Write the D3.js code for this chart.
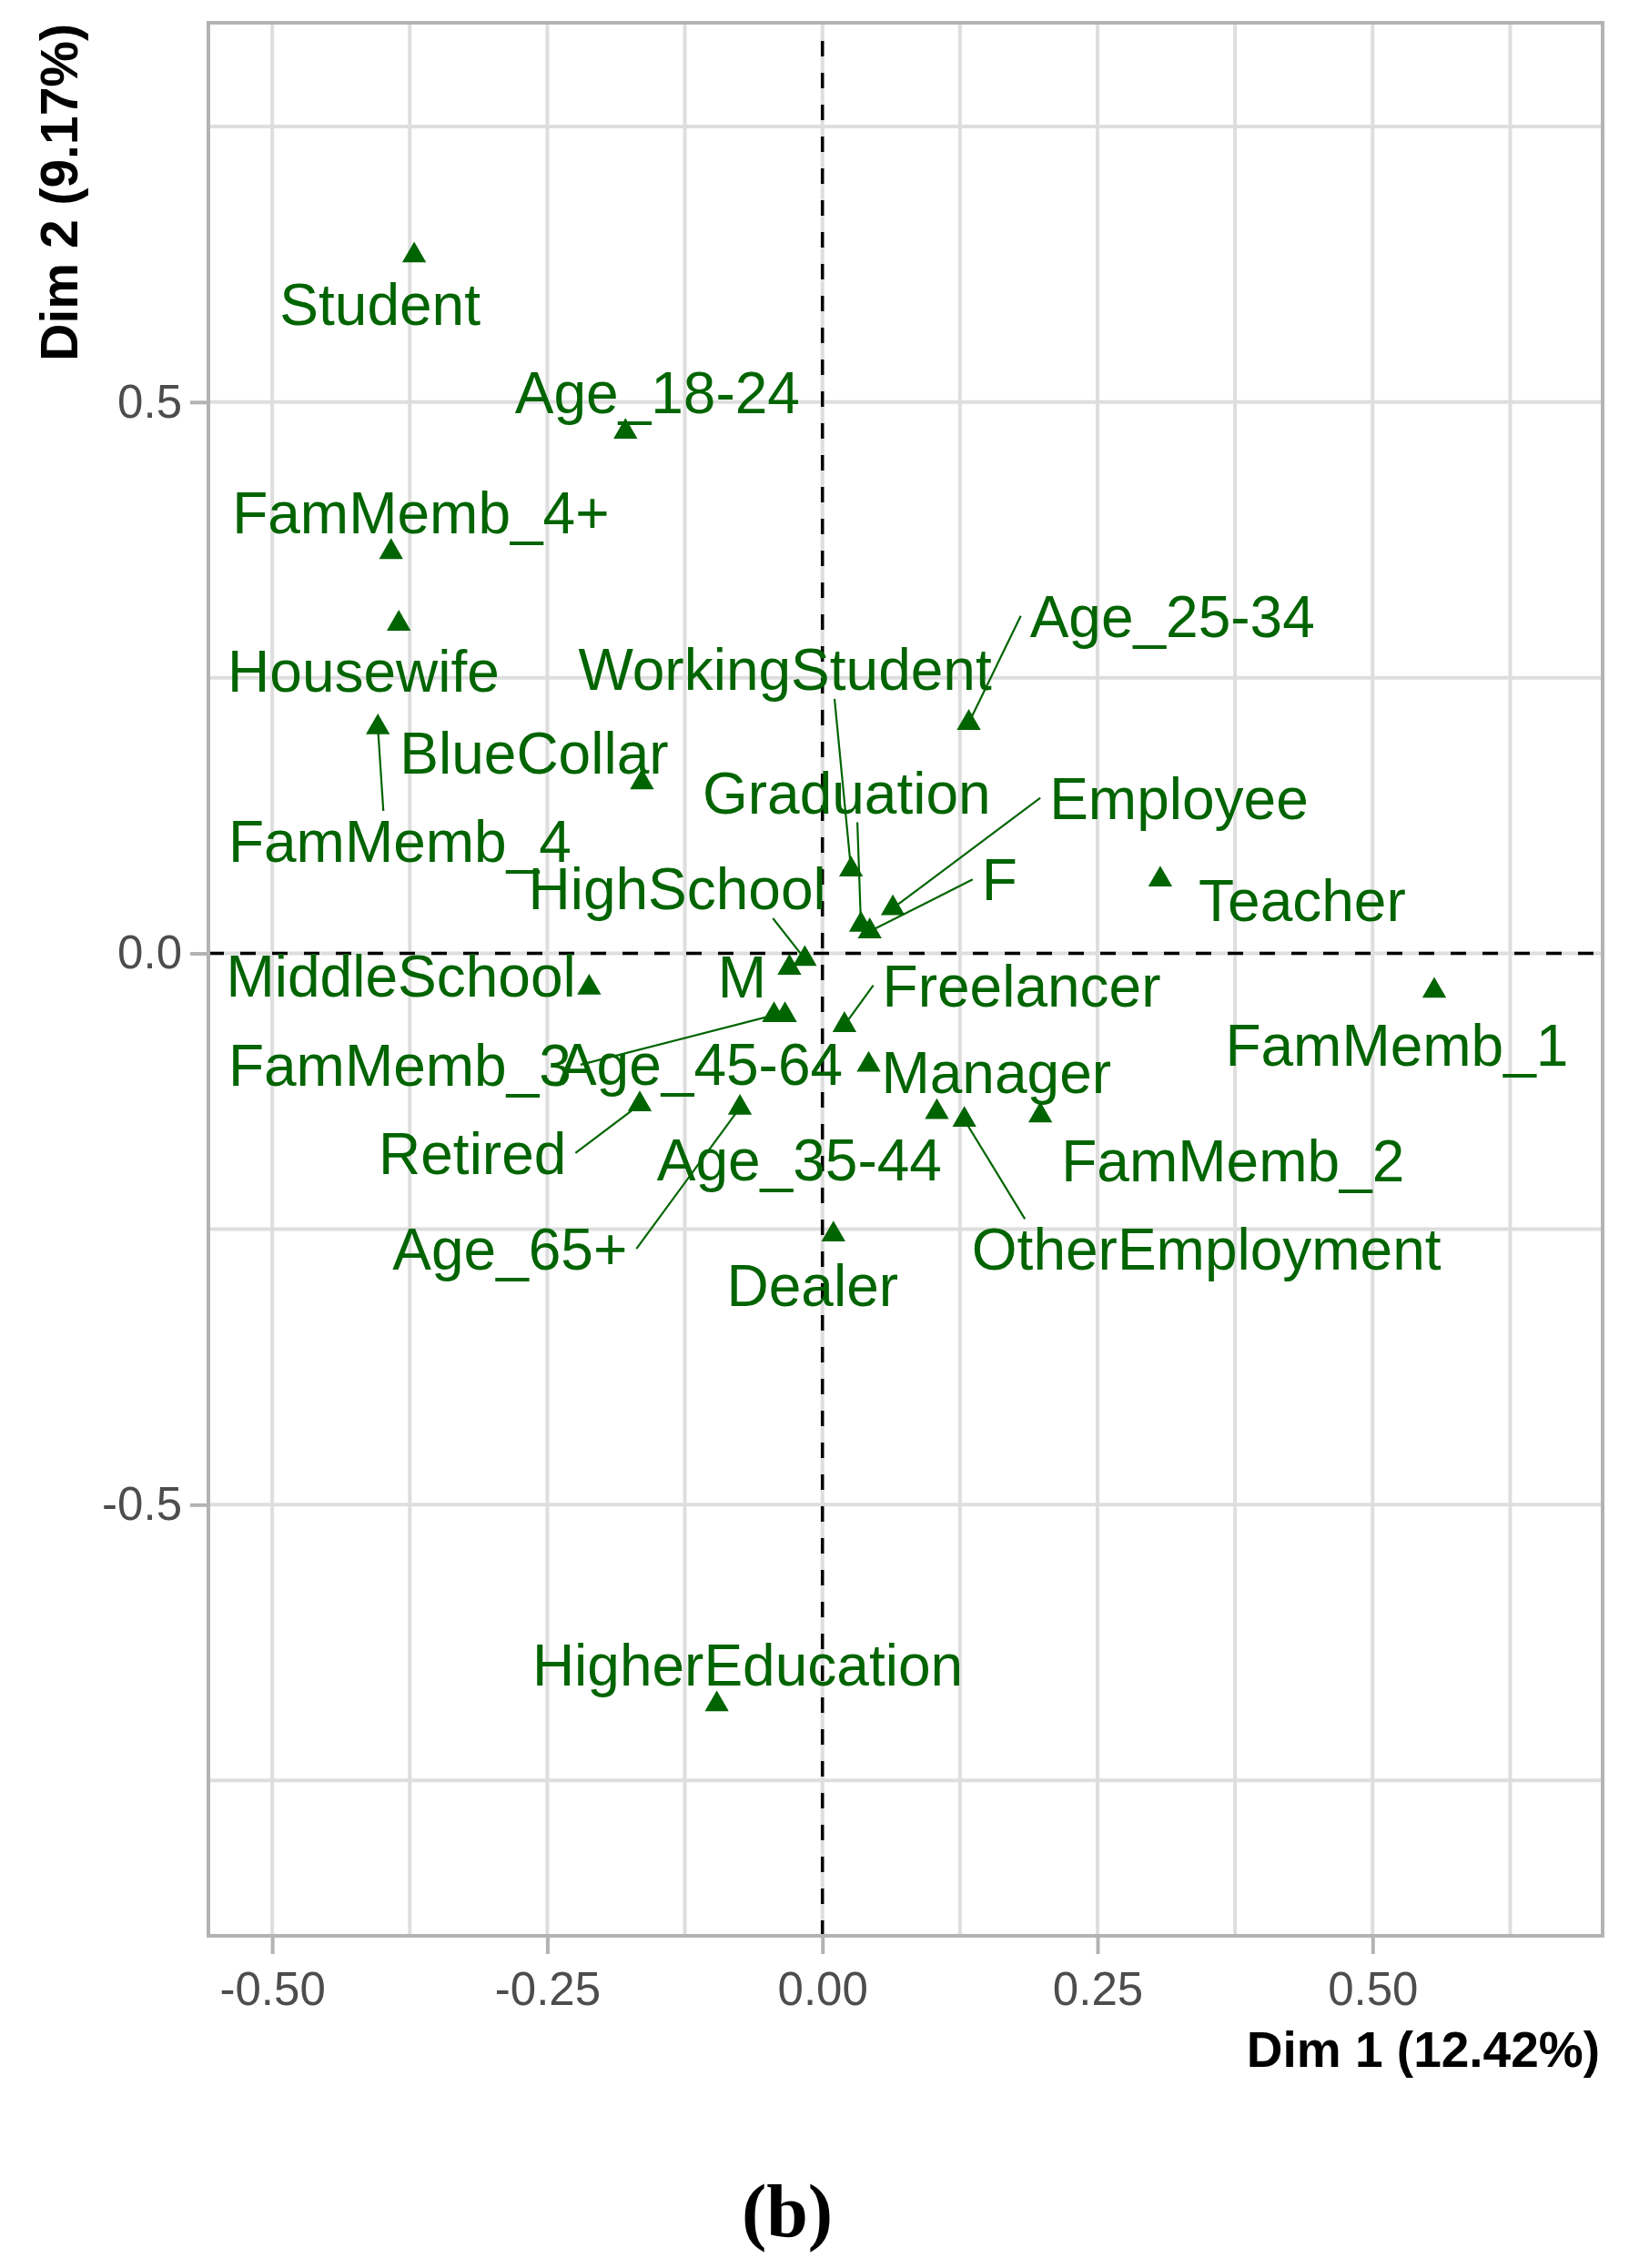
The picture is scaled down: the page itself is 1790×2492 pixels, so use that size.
<!DOCTYPE html>
<html>
<head>
<meta charset="utf-8">
<script src="https://cdn.jsdelivr.net/npm/d3@7"></script>
<style>
  html, body { margin: 0; padding: 0; background: #fff; }
  svg { display: block; }
</style>
</head>
<body>
<svg id="chart"></svg>
<script>
// MCA variable categories, coordinates on Dim 1 / Dim 2
var categories = ["Student", "Age_18-24", "FamMemb_4+", "Housewife", "WorkingStudent", "Age_25-34",
  "BlueCollar", "Graduation", "Employee", "FamMemb_4", "HighSchool", "F", "Teacher", "MiddleSchool",
  "M", "Freelancer", "FamMemb_1", "FamMemb_3", "Age_45-64", "Manager", "Retired", "Age_35-44",
  "FamMemb_2", "Age_65+", "OtherEmployment", "Dealer", "HigherEducation"];
var dim1 = [-0.371, -0.179, -0.392, -0.385, 0.026, 0.133, -0.164, 0.035, 0.064, -0.404, -0.016, 0.043,
  0.307, -0.212, -0.030, 0.020, 0.556, -0.044, -0.034, 0.042, -0.166, 0.104, 0.198, -0.075, 0.129,
  0.010, -0.096];
var dim2 = [0.633, 0.473, 0.364, 0.299, 0.076, 0.209, 0.155, 0.026, 0.041, 0.205, -0.005, 0.020,
  0.067, -0.031, -0.013, -0.065, -0.034, -0.056, -0.056, -0.101, -0.137, -0.144, -0.147, -0.140,
  -0.151, -0.255, -0.681];

// where the repelled labels ended up (data units)
var labelDim1 = [-0.402, -0.150, -0.365, -0.417, -0.034, 0.318, -0.262, 0.022, 0.324, -0.384, -0.132,
  0.161, 0.436, -0.383, -0.073, 0.181, 0.522, -0.384, -0.111, 0.158, -0.318, -0.021, 0.373, -0.284,
  0.349, -0.009, -0.068];
var labelDim2 = [0.589, 0.509, 0.400, 0.256, 0.258, 0.306, 0.182, 0.146, 0.141, 0.102, 0.059, 0.067,
  0.048, -0.020, -0.021, -0.029, -0.083, -0.101, -0.100, -0.108, -0.181, -0.187, -0.188, -0.268,
  -0.268, -0.301, -0.645];
// labels that got a leader line
var linked = ["WorkingStudent", "Age_25-34", "Graduation", "Employee", "FamMemb_4", "HighSchool", "F",
  "Freelancer", "FamMemb_3", "Retired", "Age_65+", "OtherEmployment"];

var xLimits = [-0.558, 0.709];
var yLimits = [-0.891, 0.844];
var xTicks = [-0.5, -0.25, 0, 0.25, 0.5];
var xTickLabels = ["-0.50", "-0.25", "0.00", "0.25", "0.50"];
var xMinor = [-0.375, -0.125, 0.125, 0.375, 0.625];
var yTicks = [-0.5, 0, 0.5];
var yTickLabels = ["-0.5", "0.0", "0.5"];
var yMinor = [-0.75, -0.25, 0.25, 0.75];
var xTitle = "Dim 1 (12.42%)";
var yTitle = "Dim 2 (9.17%)";
var panelTag = "(b)";

var W = 1790, H = 2492;
var margin = {top: 25, right: 29, bottom: 365, left: 229};
var pw = W - margin.left - margin.right;
var ph = H - margin.top - margin.bottom;
var green = "#006400";
var sans = "'Liberation Sans', Arial, sans-serif";

var svg = d3.select("#chart").attr("width", W).attr("height", H);
var g = svg.append("g").attr("transform", "translate(" + margin.left + "," + margin.top + ")");

var x = d3.scaleLinear().domain(xLimits).range([0, pw]);
var y = d3.scaleLinear().domain(yLimits).range([ph, 0]);

// grid
var grid = g.append("g").attr("stroke", "#dedede").attr("stroke-width", 4);
grid.selectAll("line.vx").data(xTicks.concat(xMinor)).enter().append("line")
  .attr("x1", function(d) { return x(d); }).attr("x2", function(d) { return x(d); })
  .attr("y1", 0).attr("y2", ph);
grid.selectAll("line.hy").data(yTicks.concat(yMinor)).enter().append("line")
  .attr("y1", function(d) { return y(d); }).attr("y2", function(d) { return y(d); })
  .attr("x1", 0).attr("x2", pw);

// reference lines at 0
g.append("line").attr("x1", 0).attr("x2", pw).attr("y1", y(0)).attr("y2", y(0))
  .attr("stroke", "#000").attr("stroke-width", 3.5).attr("stroke-dasharray", "17,18");
g.append("line").attr("x1", x(0)).attr("x2", x(0)).attr("y1", ph).attr("y2", 0)
  .attr("stroke", "#000").attr("stroke-width", 3.5).attr("stroke-dasharray", "17,18");

var rows = categories.map(function(c, i) {
  return {name: c, x: dim1[i], y: dim2[i], lx: labelDim1[i], ly: labelDim2[i]};
});

var fs = 64;
var segLayer = g.append("g");
var ptLayer = g.append("g");
var txtLayer = g.append("g");

// labels
var labels = txtLayer.selectAll("text").data(rows).enter().append("text")
  .attr("x", function(d) { return x(d.lx); })
  .attr("y", function(d) { return y(d.ly); })
  .attr("dy", "0.358em")
  .attr("text-anchor", "middle")
  .style("font-family", sans).style("font-size", fs + "px")
  .attr("fill", green)
  .text(function(d) { return d.name; });

// leader lines, from the label box to the point
labels.each(function(d) {
  if (linked.indexOf(d.name) < 0) return;
  var w = this.getComputedTextLength();
  var capH = 0.716 * fs, pad = 10;
  var cx = x(d.lx), cy = y(d.ly), px = x(d.x), py = y(d.y);
  var x1 = cx - w / 2 - pad, x2 = cx + w / 2 + pad;
  var sx, sy;
  if (px < x1) { sx = x1; sy = cy; }
  else if (px > x2) { sx = x2; sy = cy; }
  else { sx = cx + 0.75 * (px - cx); sy = py < cy ? cy - capH / 2 - pad : cy + capH / 2 + pad; }
  segLayer.append("line")
    .attr("x1", sx).attr("y1", sy).attr("x2", px).attr("y2", py)
    .attr("stroke", green).attr("stroke-width", 2.2);
});

// points
var tri = d3.symbol().type(d3.symbolTriangle).size(300);
ptLayer.selectAll("path").data(rows).enter().append("path")
  .attr("d", tri)
  .attr("transform", function(d) { return "translate(" + x(d.x) + "," + y(d.y) + ")"; })
  .attr("fill", green);

// panel border
g.append("rect").attr("x", 0).attr("y", 0).attr("width", pw).attr("height", ph)
  .attr("fill", "none").attr("stroke", "#b3b3b3").attr("stroke-width", 4);

// axes
var xAxis = d3.axisBottom(x).tickValues(xTicks)
  .tickFormat(function(d, i) { return xTickLabels[i]; }).tickSize(20).tickPadding(20);
var yAxis = d3.axisLeft(y).tickValues(yTicks)
  .tickFormat(function(d, i) { return yTickLabels[i]; }).tickSize(20).tickPadding(9);

var gx = g.append("g").attr("transform", "translate(0," + ph + ")").call(xAxis);
var gy = g.append("g").call(yAxis);
[gx, gy].forEach(function(a) {
  a.select(".domain").remove();
  a.selectAll(".tick line").attr("stroke", "#b3b3b3").attr("stroke-width", 4);
  a.selectAll(".tick text").attr("fill", "#4d4d4d")
    .style("font-family", sans).style("font-size", "51px");
});
gx.selectAll(".tick text").attr("dy", "0.71em");

// axis titles
svg.append("text")
  .attr("x", margin.left + pw - 3).attr("y", 2271)
  .attr("text-anchor", "end")
  .style("font-family", sans).style("font-size", "55px").style("font-weight", "bold")
  .attr("fill", "#000").text(xTitle);

svg.append("text")
  .attr("transform", "translate(85," + (margin.top + 1) + ") rotate(-90)")
  .attr("text-anchor", "end")
  .style("font-family", sans).style("font-size", "57px").style("font-weight", "bold")
  .attr("fill", "#000").text(yTitle);

// panel tag below the plot
svg.append("text")
  .attr("x", 865).attr("y", 2457)
  .attr("text-anchor", "middle")
  .style("font-family", "'Liberation Serif', 'Times New Roman', serif")
  .style("font-size", "82px").style("font-weight", "bold")
  .attr("fill", "#000").text(panelTag);
</script>
</body>
</html>
